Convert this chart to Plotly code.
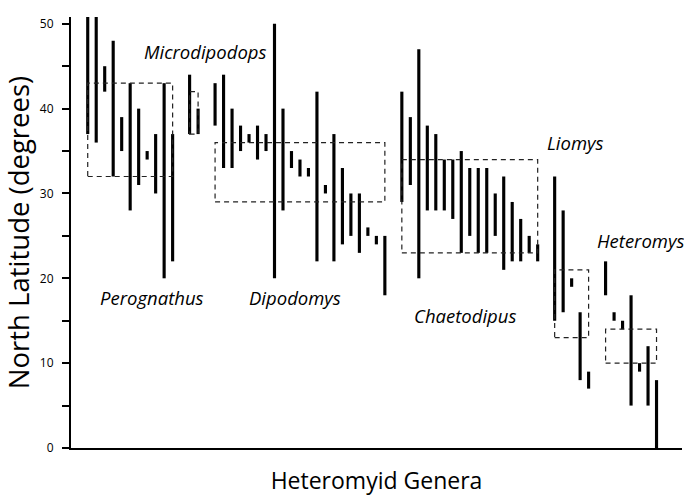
import plotly.graph_objects as go

# ---- data ----
genera = ["Perognathus", "Microdipodops", "Dipodomys", "Chaetodipus", "Liomys", "Heteromys"]

perognathus_low = [37, 36, 42, 32, 35, 28, 31, 34, 30, 20, 22]
perognathus_high = [52, 51, 45, 48, 39, 43, 40, 35, 37, 43, 37]

microdipodops_low = [37, 37]
microdipodops_high = [44, 40]

dipodomys_low = [38, 33, 33, 35, 36, 34, 35, 20, 28, 33, 32, 32, 22, 30, 22, 24, 25, 23, 25, 24, 18]
dipodomys_high = [43, 44, 40, 38, 37, 38, 37, 50, 40, 35, 34, 33, 42, 31, 37, 33, 30, 30, 26, 25, 25]

chaetodipus_low = [29, 31, 20, 28, 28, 28, 27, 23, 25, 23, 23, 25, 21, 22, 22, 23, 22]
chaetodipus_high = [42, 39, 47, 38, 37, 34, 34, 35, 33, 33, 33, 30, 32, 29, 27, 25, 24]

liomys_low = [15, 16, 19, 8, 7]
liomys_high = [32, 28, 20, 16, 9]

heteromys_low = [18, 15, 14, 5, 9, 5, 0]
heteromys_high = [22, 16, 15, 18, 10, 12, 8]

# genus (dashed box) latitude ranges
genus_box_low = [32, 37, 29, 23, 13, 10]
genus_box_high = [43, 42, 36, 34, 21, 14]

y_tick_vals = [0, 10, 20, 30, 40, 50]
y_tick_text = ["0", "10", "20", "30", "40", "50"]

species_low = [perognathus_low, microdipodops_low, dipodomys_low,
               chaetodipus_low, liomys_low, heteromys_low]
species_high = [perognathus_high, microdipodops_high, dipodomys_high,
                chaetodipus_high, liomys_high, heteromys_high]

# ---- figure ----
fig = go.Figure()
shapes = []
positions = []
start = 0
for lows, highs in zip(species_low, species_high):
    xs = list(range(start, start + len(lows)))
    positions.append(xs)
    start += len(lows) + 1
    fig.add_trace(go.Bar(
        x=xs,
        y=[h - l for l, h in zip(lows, highs)],
        base=lows,
        width=0.37,
        marker=dict(color="black", line=dict(width=0)),
        cliponaxis=False,
        showlegend=False,
        hoverinfo="skip",
    ))

for xs, lo, hi in zip(positions, genus_box_low, genus_box_high):
    shapes.append(dict(
        type="rect", xref="x", yref="y",
        x0=xs[0], x1=xs[-1], y0=lo, y1=hi,
        line=dict(color="#222", width=1.2, dash="5px,4px"),
        fillcolor="rgba(0,0,0,0)", layer="above",
    ))

# genus label placement (x in bar-index units, y in degrees)
label_pos = {
    "Perognathus": (7.6, 17.7),
    "Microdipodops": (13.9, 46.7),
    "Dipodomys": (24.4, 17.7),
    "Chaetodipus": (44.4, 15.6),
    "Liomys": (57.4, 36.0),
    "Heteromys": (65.1, 24.5),
}
annotations = []
for g in genera:
    xx, yy = label_pos[g]
    annotations.append(dict(
        x=xx, y=yy, xref="x", yref="y", text=g, showarrow=False,
        font=dict(family="Open Sans", size=18.5, color="black", style="italic"),
    ))

fig.update_layout(
    width=684, height=496,
    margin=dict(l=71, r=2, t=17, b=48),
    paper_bgcolor="white", plot_bgcolor="white",
    font=dict(family="Open Sans", color="black"),
    barmode="overlay",
    shapes=shapes,
    annotations=annotations,
    xaxis=dict(
        range=[-1.97, 70], showgrid=False, zeroline=False,
        showline=True, linecolor="black", linewidth=2,
        showticklabels=False, ticks="",
        title=dict(text="Heteromyid Genera", font=dict(size=23), standoff=28),
        automargin=False,
    ),
    yaxis=dict(
        range=[0, 50.8], showgrid=False, zeroline=False,
        showline=True, linecolor="black", linewidth=2,
        tickvals=y_tick_vals, ticktext=y_tick_text,
        ticks="outside", ticklen=7, tickwidth=1.5, tickcolor="black",
        tickfont=dict(size=12),
        ticklabelstandoff=6,
        minor=dict(ticks="outside", ticklen=7, tickwidth=1.5, tickcolor="black", dtick=5, tick0=0),
        title=dict(text="North Latitude (degrees)", font=dict(size=27.5), standoff=4),
        automargin=False,
    ),
)

fig.write_html("out.html", post_script="document.body.style.margin='0';",
               config={"displayModeBar": False})
